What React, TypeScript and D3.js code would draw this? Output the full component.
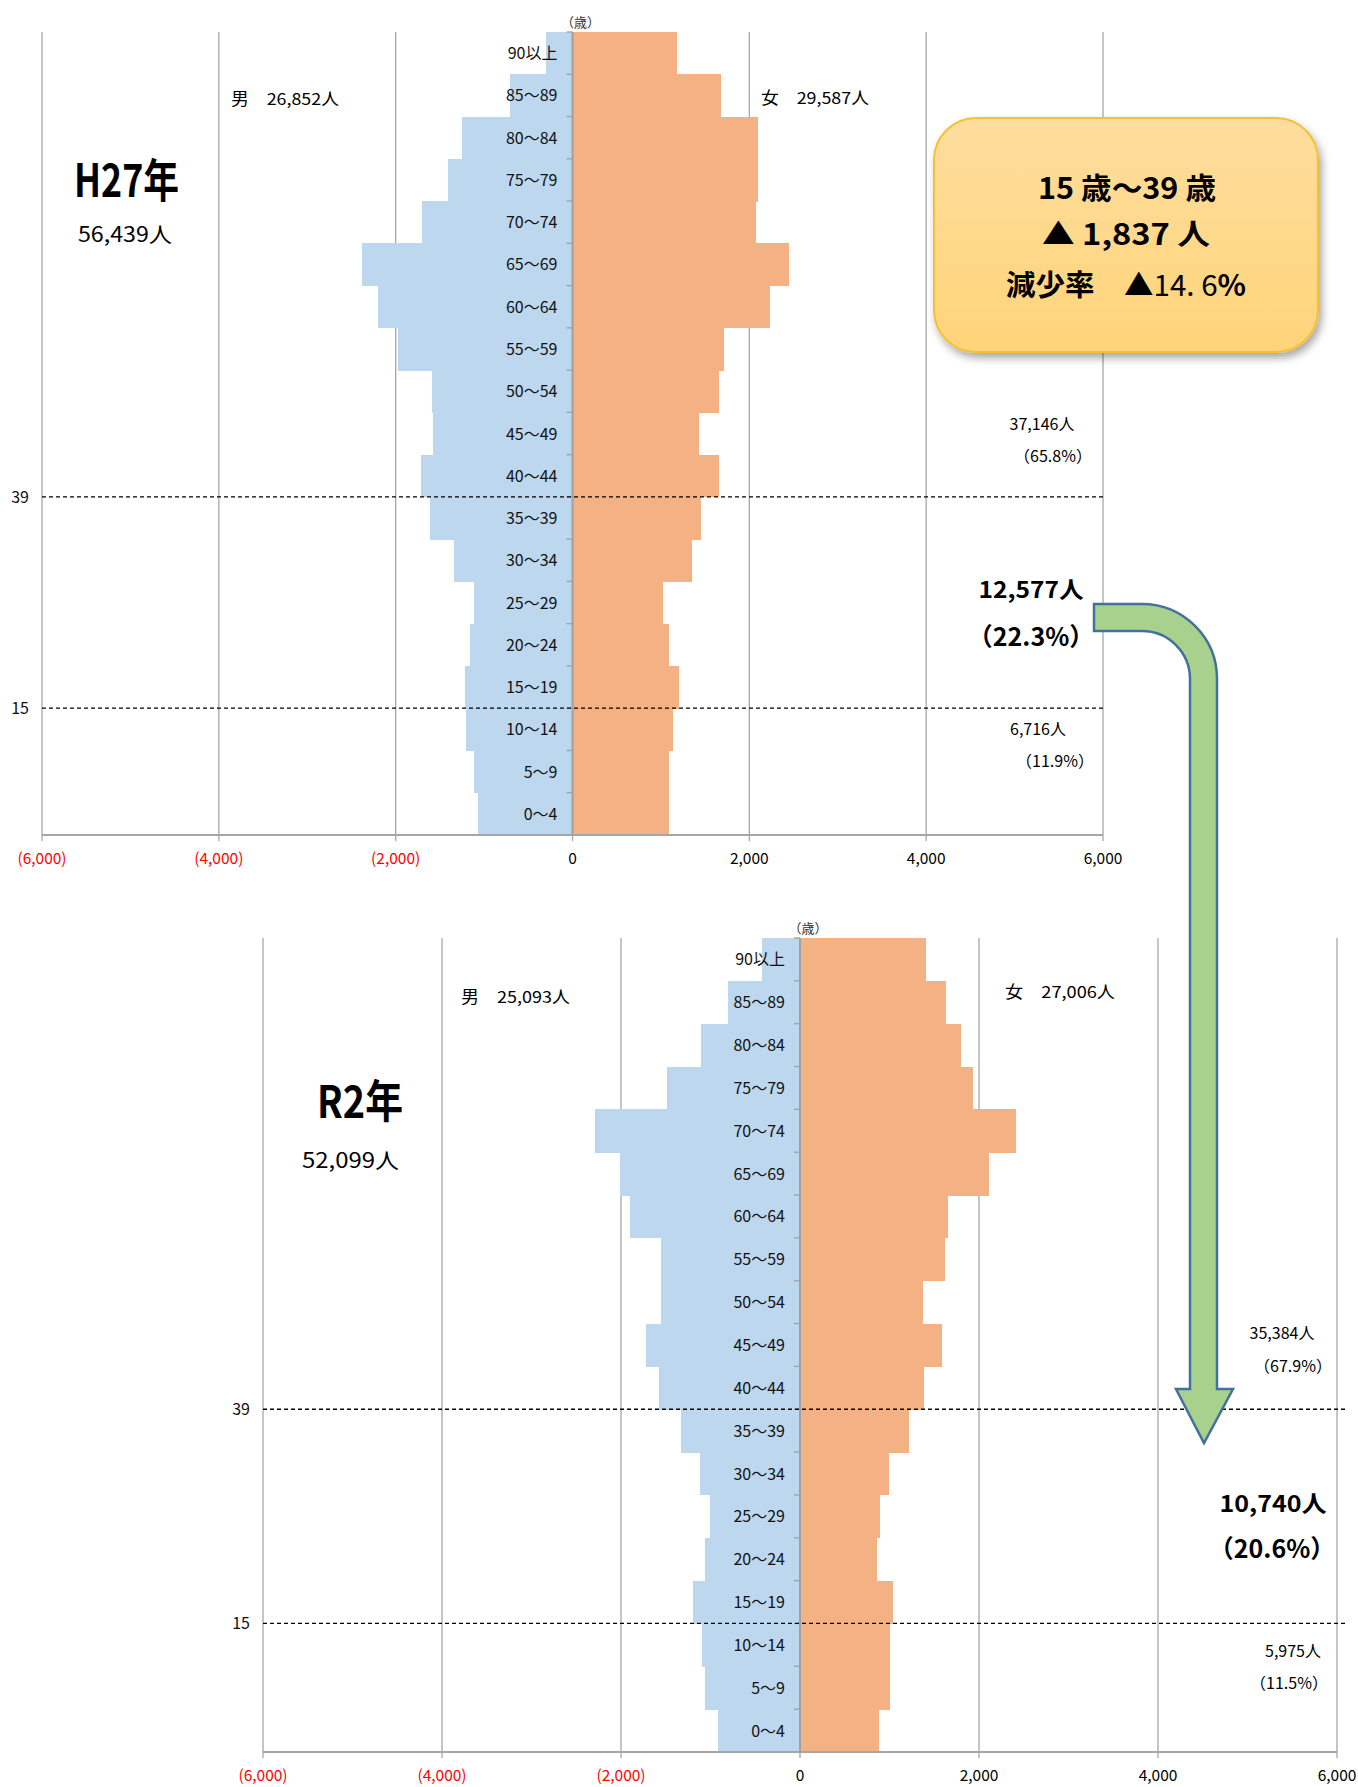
import React from "react";
import * as d3 from "d3";

// ---- data ----
const ageGroups = [
  "0～4", "5～9", "10～14", "15～19", "20～24", "25～29", "30～34", "35～39",
  "40～44", "45～49", "50～54", "55～59", "60～64", "65～69", "70～74",
  "75～79", "80～84", "85～89", "90以上",
];
const maleH27 = [1064, 1109, 1200, 1215, 1155, 1113, 1336, 1608, 1715, 1573, 1593, 1972, 2196, 2377, 1700, 1412, 1245, 704, 300];
const femaleH27 = [1097, 1097, 1140, 1200, 1097, 1022, 1351, 1455, 1652, 1426, 1652, 1709, 2235, 2451, 2070, 2094, 2094, 1681, 1177];
const maleR2 = [913, 1062, 1093, 1197, 1062, 1002, 1122, 1332, 1577, 1721, 1556, 1556, 1905, 2011, 2295, 1482, 1107, 803, 429];
const femaleR2 = [880, 1011, 1011, 1039, 861, 889, 998, 1222, 1391, 1583, 1372, 1616, 1658, 2108, 2409, 1935, 1794, 1630, 1406];

const tickValues = [-6000, -4000, -2000, 0, 2000, 4000, 6000];
const tickLabels = ["(6,000)", "(4,000)", "(2,000)", "0", "2,000", "4,000", "6,000"];
const boundaryGroups = ["10～14", "35～39"];
const boundaryLabels = ["15", "39"];

const FONT = "'Noto Sans CJK JP', 'Noto Sans', sans-serif";
const MALE = "#BDD7EE";
const FEMALE = "#F4B183";
const GRID = "#A6A6A6";

type PanelProps = {
  male: number[];
  female: number[];
  left: number;
  right: number;
  top: number;
  bottom: number;
  dashEnd: number;
};

function Pyramid({ male, female, left, right, top, bottom, dashEnd }: PanelProps) {
  const x = d3.scaleLinear().domain([-6000, 6000]).range([left, right]);
  const y = d3.scaleBand<string>().domain([...ageGroups].reverse()).range([top, bottom]).padding(0);
  const bw = y.bandwidth();
  const x0 = x(0);
  return (
    <g fontFamily={FONT}>
      {/* gridlines */}
      {tickValues.filter((v) => v !== 0).map((v) => (
        <line key={"g" + v} x1={x(v)} x2={x(v)} y1={top} y2={bottom} stroke={GRID} strokeWidth={1.3} />
      ))}
      {/* bars */}
      {ageGroups.map((a, i) => (
        <g key={"b" + a} shapeRendering="crispEdges">
          <rect x={x(-male[i])} y={y(a)} width={x0 - x(-male[i])} height={bw + 0.5} fill={MALE} />
          <rect x={x0} y={y(a)} width={x(female[i]) - x0} height={bw + 0.5} fill={FEMALE} />
        </g>
      ))}
      {/* bottom axis */}
      <line x1={left} x2={right} y1={bottom} y2={bottom} stroke={GRID} strokeWidth={2.2} />
      {tickValues.map((v, i) => (
        <g key={"t" + v}>
          <line x1={x(v)} x2={x(v)} y1={bottom} y2={bottom + 6} stroke={GRID} strokeWidth={1.3} />
          <text x={x(v)} y={bottom + 29} textAnchor="middle" fontSize={15.5} fill={v < 0 ? "#FF0000" : "#000"}>
            {tickLabels[i]}
          </text>
        </g>
      ))}
      {/* zero axis with ticks */}
      <line x1={x0} x2={x0} y1={top} y2={bottom} stroke="#A0A0A0" strokeWidth={2} />
      {ageGroups.map((a) => (
        <line key={"k" + a} x1={x0 - 6} x2={x0} y1={(y(a) as number)} y2={(y(a) as number)} stroke="#A0A0A0" strokeWidth={1.3} />
      ))}
      {/* category labels */}
      {ageGroups.map((a) => (
        <text key={"l" + a} x={x0 - 15} y={(y(a) as number) + bw / 2 + 6} textAnchor="end" fontSize={16} fill="#111">
          {a}
        </text>
      ))}
      <text x={x0 + 8} y={top - 5} textAnchor="middle" fontSize={13} fill="#333">（歳）</text>
      {/* dashed boundaries */}
      {boundaryGroups.map((g, i) => {
        const yy = (y(g) as number);
        return (
          <g key={"d" + g}>
            <line x1={left} x2={dashEnd} y1={yy} y2={yy} stroke="#000" strokeWidth={1.3} strokeDasharray="4,3" />
            <text x={left - 13} y={yy + 6} textAnchor="end" fontSize={16} fill="#111">{boundaryLabels[i]}</text>
          </g>
        );
      })}
    </g>
  );
}

function T(props: any) {
  const { children, ...rest } = props;
  return (
    <text fontFamily={FONT} fill="#000" {...rest}>
      {children}
    </text>
  );
}

export default function App() {
  const arrowPath = (() => {
    const p = d3.path();
    p.moveTo(1094, 604);
    p.lineTo(1142, 604);
    p.arc(1142, 679, 75, -Math.PI / 2, 0);
    p.lineTo(1217, 1389);
    p.lineTo(1233, 1389);
    p.lineTo(1204, 1443);
    p.lineTo(1176, 1389);
    p.lineTo(1190, 1389);
    p.lineTo(1190, 679);
    p.arc(1142, 679, 48, 0, -Math.PI / 2, true);
    p.lineTo(1094, 631);
    p.closePath();
    return p.toString();
  })();

  return (
    <div style={{ position: "absolute", left: 0, top: 0 }}>
      <svg width={1358} height={1787} viewBox="0 0 1358 1787" style={{ display: "block", background: "#fff" }}>
        <defs>
          <linearGradient id="boxGrad" x1="0" y1="0" x2="0" y2="1">
            <stop offset="0%" stopColor="#FEDD9E" />
            <stop offset="100%" stopColor="#FFD479" />
          </linearGradient>
          <filter id="shadow" x="-20%" y="-20%" width="140%" height="150%">
            <feDropShadow dx="3" dy="5" stdDeviation="4" floodColor="#000" floodOpacity="0.35" />
          </filter>
        </defs>

        <Pyramid male={maleH27} female={femaleH27} left={42} right={1103} top={32} bottom={835} dashEnd={1106} />
        <Pyramid male={maleR2} female={femaleR2} left={263} right={1337} top={938} bottom={1752} dashEnd={1345} />

        {/* top panel texts */}
        <T x={74} y={197} fontSize={46} fontWeight="bold" textLength={105} lengthAdjust="spacingAndGlyphs">H27年</T>
        <T x={78} y={242} fontSize={21} textLength={94} lengthAdjust="spacingAndGlyphs">56,439人</T>
        <T x={231} y={105} fontSize={16.5} textLength={108} lengthAdjust="spacingAndGlyphs">男　26,852人</T>
        <T x={761} y={104} fontSize={16.5} textLength={108} lengthAdjust="spacingAndGlyphs">女　29,587人</T>

        {/* summary box */}
        <rect x={934} y={118} width={384} height={234} rx={42} ry={42} fill="url(#boxGrad)" stroke="#F6C034" strokeWidth={2} filter="url(#shadow)" />
        <T x={1127} y={199} fontSize={30} fontWeight="bold" textAnchor="middle" textLength={178} lengthAdjust="spacingAndGlyphs">15 歳～39 歳</T>
        <T x={1126} y={245} fontSize={29} fontWeight="bold" textAnchor="middle" textLength={168} lengthAdjust="spacingAndGlyphs">▲ 1,837 人</T>
        <T x={1126} y={296} fontSize={29} fontWeight="bold" textAnchor="middle" textLength={240} lengthAdjust="spacingAndGlyphs">
          減少率　▲<tspan fontWeight="normal">14. 6</tspan>%
        </T>

        <T x={1042} y={430} fontSize={16} textAnchor="middle">37,146人</T>
        <T x={1053} y={462} fontSize={16} textAnchor="middle">（65.8%）</T>
        <T x={1031} y={598} fontSize={23} fontWeight="bold" textAnchor="middle" textLength={105} lengthAdjust="spacingAndGlyphs">12,577人</T>
        <T x={1031} y={646} fontSize={25} fontWeight="bold" textAnchor="middle">（22.3%）</T>
        <T x={1038} y={735} fontSize={16} textAnchor="middle">6,716人</T>
        <T x={1055} y={767} fontSize={16} textAnchor="middle">（11.9%）</T>

        {/* bottom panel texts */}
        <T x={317} y={1118} fontSize={45} fontWeight="bold" textLength={86} lengthAdjust="spacingAndGlyphs">R2年</T>
        <T x={302} y={1168} fontSize={21} textLength={97} lengthAdjust="spacingAndGlyphs">52,099人</T>
        <T x={461} y={1003} fontSize={16.5} textLength={109} lengthAdjust="spacingAndGlyphs">男　25,093人</T>
        <T x={1005} y={998} fontSize={16.5} textLength={110} lengthAdjust="spacingAndGlyphs">女　27,006人</T>

        <T x={1282} y={1339} fontSize={16} textAnchor="middle">35,384人</T>
        <T x={1293} y={1372} fontSize={16} textAnchor="middle">（67.9%）</T>
        <T x={1273} y={1512} fontSize={23} fontWeight="bold" textAnchor="middle" textLength={107} lengthAdjust="spacingAndGlyphs">10,740人</T>
        <T x={1272} y={1558} fontSize={25} fontWeight="bold" textAnchor="middle">（20.6%）</T>
        <T x={1293} y={1657} fontSize={16} textAnchor="middle">5,975人</T>
        <T x={1289} y={1689} fontSize={16} textAnchor="middle">（11.5%）</T>

        {/* green arrow */}
        <path d={arrowPath} fill="#A9D18E" stroke="#41719C" strokeWidth={2.5} strokeLinejoin="miter" />
      </svg>
    </div>
  );
}
